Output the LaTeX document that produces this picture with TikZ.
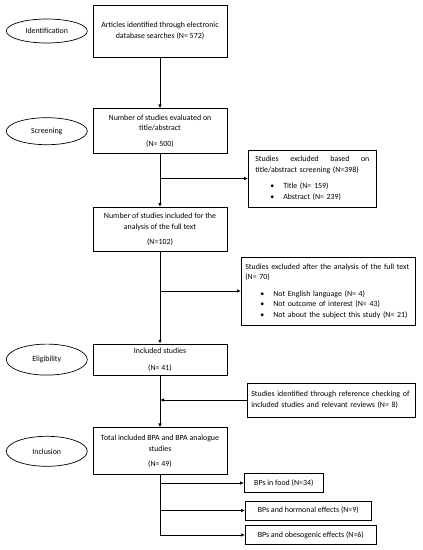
\documentclass[tikz,border=0pt]{standalone}
\usepackage{fontspec}
\setmainfont{Carlito}
\usepackage{tikz}
\usetikzlibrary{arrows.meta, positioning, shapes.geometric}

\newcommand{\bpt}[1]{\hspace*{15pt}\textbullet\hspace{9pt}#1}

\begin{document}
\begin{tikzpicture}[x=1pt, y=-1pt,
            font=\fontsize{7.9}{10.5}\selectfont,
            stagebox/.style={draw, line width=0.7pt, minimum width=134pt, inner xsep=2pt, align=center},
            phase/.style={draw, ellipse, line width=0.7pt, minimum width=81pt, inner sep=0pt},
            sidebox/.style={draw, line width=0.7pt, inner xsep=4pt, align=left, anchor=west},
            outbox/.style={draw, line width=0.7pt, minimum height=19pt, inner xsep=4pt, anchor=west},
            flow/.style={line width=0.9pt, -{Latex[length=4pt, width=3.5pt]}}]

            \useasboundingbox (0,0) rectangle (423,550);

            % Main stages, top to bottom
            \node[stagebox, minimum height=52pt] (found) at (160,31)
                {Articles identified through electronic\\ database searches (N= 572)};
            \node[stagebox, minimum height=45pt, below=51pt of found] (screened)
                {Number of studies evaluated on\\ title/abstract\\[5pt] (N= 500)};
            \node[stagebox, minimum height=44pt, below=53pt of screened] (fulltext)
                {Number of studies included for the\\ analysis of the full text\\[5pt] (N=102)};
            \node[stagebox, minimum height=31pt, below=92pt of fulltext] (included)
                {Included studies\\[6pt] (N= 41)};
            \node[stagebox, minimum height=47pt, below=52pt of included] (total)
                {Total included BPA and BPA analogue\\ studies\\[5pt] (N= 49)};

            % Phase labels on the left
            \node[phase, minimum height=24pt, left=5pt of found] (identph) {Identification};
            \node[phase, minimum height=27pt, left=5pt of screened] (screenph) {Screening};
            \node[phase, minimum height=31pt, left=5pt of included] (eligph) {Eligibility};
            \node[phase, minimum height=30pt, left=5pt of total] (inclph) {Inclusion};

            % Side boxes: exclusions and extra records
            \node[sidebox, inner xsep=7pt, text width=114pt, minimum height=57pt] (exabs) at (248,178.5)
                {Studies\hfill excluded\hfill based\hfill on\\ title/abstract screening (N=398)\\[6pt]
                 \bpt{Title (N= 159)}\\ \bpt{Abstract (N= 239)}};
            \node[sidebox, text width=166pt, minimum height=68pt] (exfull) at (241,291)
                {Studies excluded after the analysis of the full text\\ (N= 70)\\[6pt]
                 \bpt{Not English language (N= 4)}\\ \bpt{Not outcome of interest (N= 43)}\\
                 \bpt{Not about the subject this study (N= 21)}};
            \node[sidebox, text width=160pt, minimum height=34pt] (refcheck) at (247,400)
                {Studies identified through reference checking of\\ included studies and relevant reviews (N= 8)};

            % Outcome groups
            \node[outbox, minimum width=79pt] (food) at (244,483) {BPs in food (N=34)};
            \node[outbox, minimum width=126pt] (hormone) at (245,510.5) {BPs and hormonal effects (N=9)};
            \node[outbox, minimum width=131pt] (obeso) at (245,535) {BPs and obesogenic effects (N=6)};

            % Main flow
            \draw[flow] (found) -- (screened);
            \draw[flow] (screened) -- (fulltext);
            \draw[flow] (fulltext) -- (included);
            \draw[flow] (included) -- (total);

            % Branches to the side boxes
            \draw[flow] (exabs.west -| screened.south) -- (exabs.west);
            \draw[flow] (exfull.west -| fulltext.south) -- (exfull.west);
            \draw[flow] (refcheck.west) -- (refcheck.west -| included.south);

            % Split into outcome groups
            \draw[line width=0.7pt] (total.south) -- (obeso.west -| total.south);
            \foreach \grp in {food, hormone, obeso}
                \draw[flow, line width=0.7pt] (\grp.west -| total.south) -- (\grp.west);
        \end{tikzpicture}
\end{document}
